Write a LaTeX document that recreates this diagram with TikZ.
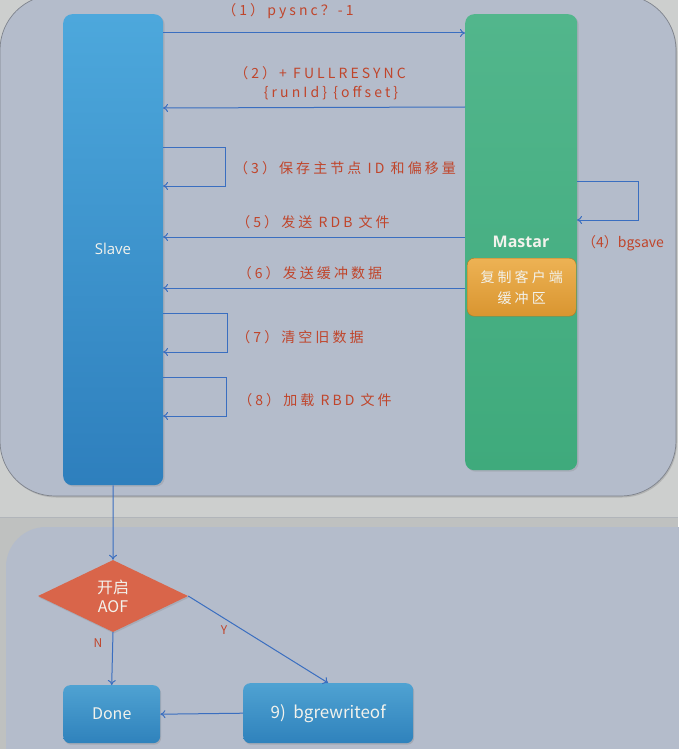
\documentclass[tikz,border=0pt]{standalone}
\usepackage{fontspec}
\setmainfont{Noto Sans CJK SC}
\newfontfamily\latinsf{Open Sans}
\newfontfamily\spacedcjk[LetterSpace=22]{Noto Sans CJK SC}
\usetikzlibrary{shapes.geometric,arrows.meta,shadows}
\definecolor{outerbg}{HTML}{CDCFCE}
\definecolor{panelbg}{HTML}{B4BCCB}
\definecolor{panelline}{HTML}{7E838C}
\definecolor{arrowblue}{HTML}{3A6EC0}
\definecolor{labelred}{HTML}{C0452B}
\definecolor{slavetop}{HTML}{4DA8DC}
\definecolor{slavebot}{HTML}{2E7FBD}
\definecolor{mastercol}{HTML}{3FAA7C}
\definecolor{mastertop}{HTML}{52B68C}
\definecolor{orangetop}{HTML}{EDB254}
\definecolor{orangebot}{HTML}{D99530}
\definecolor{diamondcol}{HTML}{D9654A}
\definecolor{boxtop}{HTML}{4FA2D2}
\definecolor{boxbot}{HTML}{2F82BC}
\definecolor{whitetext}{HTML}{F2F2EC}
\tikzset{
  x=1pt, y=-1pt,
  conn/.style={draw=arrowblue, line width=1pt, -{To[length=5pt,width=8pt]}},
  lbl/.style={text=labelred, font=\spacedcjk\fontsize{14}{16}\selectfont, inner sep=0pt},
  yn/.style={text=labelred, font=\fontsize{12}{14}\selectfont, inner sep=0pt},
  bar/.style={rounded corners=9pt, draw=none, drop shadow={opacity=0.25, shadow xshift=1.5pt, shadow yshift=-1.5pt}},
  boxnode/.style={rounded corners=7pt, top color=boxtop, bottom color=boxbot, draw=none,
    text=whitetext, font=\fontsize{16}{18}\selectfont, drop shadow={opacity=0.3, shadow xshift=1pt, shadow yshift=-1.5pt}},
}
\begin{document}
\begin{tikzpicture}
\useasboundingbox (0,0) rectangle (678,749);
% backgrounds
\fill[outerbg] (0,0) rectangle (678,749);
\fill[outerbg!93!black] (0,518) rectangle (678,749);
\draw[panelline!60, line width=1pt] (0,517) -- (678,517);
\fill[panelbg, draw=panelline, line width=0.7pt, rounded corners=55pt,
  drop shadow={opacity=0.35, shadow xshift=1pt, shadow yshift=-1.5pt}] (0,-5) rectangle (676,496);
\fill[panelbg, rounded corners=40pt] (6,527) rectangle (720,800);

% Slave and master bars
\node[bar, top color=slavetop, bottom color=slavebot, minimum width=100pt, minimum height=471pt, anchor=north west] (slave) at (63,14) {};
\node[text=whitetext, font=\latinsf\fontsize{15}{17}\selectfont] (slavet) at (113,249) {Slave};
\node[bar, top color=mastertop, bottom color=mastercol, minimum width=112pt, minimum height=456pt, anchor=north west] (master) at (465,14) {};
\node[text=whitetext, font=\latinsf\bfseries\fontsize{16}{18}\selectfont] (mastert) at (521,242) {Mastar};
\node[rounded corners=7pt, top color=orangetop, bottom color=orangebot, draw=orangebot!80!black, line width=0.4pt,
  minimum width=109pt, minimum height=58pt, anchor=north west, text=whitetext,
  font=\spacedcjk\fontsize{14}{21}\selectfont, align=center] (buf) at (467,258) {复制客户端\\缓冲区};

% coordinates for arrows
\coordinate (s1) at (163,33);   \coordinate (m1) at (465,33);
\coordinate (m2) at (465,107);  \coordinate (s2) at (163,108);
\coordinate (s3a) at (163,147); \coordinate (s3b) at (163,186);
\coordinate (m4a) at (577,181); \coordinate (m4b) at (577,220);
\coordinate (m5) at (465,237);  \coordinate (s5) at (163,237);
\coordinate (m6) at (465,288);  \coordinate (s6) at (163,288);
\coordinate (s7a) at (163,313); \coordinate (s7b) at (163,352);
\coordinate (s8a) at (163,377); \coordinate (s8b) at (163,416);

\draw[conn] (s1) -- (m1);
\draw[conn] (m2) -- (s2);
\draw[conn] (s3a) -- (225,147) -- (225,186) -- (s3b);
\draw[conn] (m4a) -- (638,181) -- (638,220) -- (m4b);
\draw[conn] (m5) -- (s5);
\draw[conn] (m6) -- (s6);
\draw[conn] (s7a) -- (227,313) -- (227,352) -- (s7b);
\draw[conn] (s8a) -- (226,377) -- (226,416) -- (s8b);

% labels
\node[lbl] (l1) at (288,11) {（1）pysnc？-1};
\node[lbl] (l2) at (320,73) {（2）+ FULLRESYNC};
\node[lbl] (l2b) at (331,93) {\{runId\} \{offset\}};
\node[lbl] (l3) at (345,168) {（3）保存主节点 ID 和偏移量};
\node[lbl, font=\fontsize{14}{16}\selectfont] (l4) at (623,243) {（4）bgsave};
\node[lbl] (l5) at (313,222) {（5）发送 RDB 文件};
\node[lbl] (l6) at (310,273) {（6）发送缓冲数据};
\node[lbl] (l7) at (300,337) {（7）清空旧数据};
\node[lbl] (l8) at (315,400) {（8）加载 RBD 文件};

% bottom flow
\node[diamond, aspect=2.1, fill=diamondcol, draw=none, minimum width=150pt, minimum height=72pt, inner sep=0pt,
  text=whitetext, font=\fontsize{16}{19}\selectfont, align=center, drop shadow={opacity=0.25, shadow xshift=1pt, shadow yshift=-1.5pt}] (aof) at (113,596) {开启\\AOF};
\node[boxnode, minimum width=97pt, minimum height=58pt, anchor=north west] (done) at (63,685) {Done};
\node[boxnode, font=\fontsize{17}{19}\selectfont, minimum width=170pt, minimum height=60pt, anchor=north west] (bgr) at (243,683) {9)\ \ bgrewriteof};

\draw[conn] (slave.south) -- (aof.north);
\draw[conn] (aof.south) -- (done.north);
\draw[conn] (aof.east) -- (bgr.north);
\draw[conn] (bgr.west) -- (done.east);
\node[yn] (nlbl) at (98,643) {N};
\node[yn] (ylbl) at (224,630) {Y};
\end{tikzpicture}
\end{document}
